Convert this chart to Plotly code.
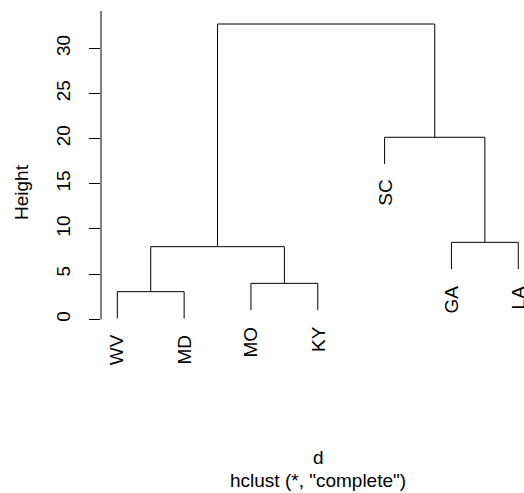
import plotly.graph_objects as go

# ---- data ----
leaf_labels = ["WV", "MD", "MO", "KY", "SC", "GA", "LA"]   # leaf order left->right
# merges in R hclust convention: negative = leaf (1-based index in leaf_labels), positive = earlier merge
merge_left = [-1, -3, 1, -6, -5, 3]
merge_right = [-2, -4, 2, -7, 4, 5]
merge_height = [3.06, 3.98, 8.04, 8.52, 20.15, 32.69]
y_ticks = [0, 5, 10, 15, 20, 25, 30]
hang_frac = 0.1

hang = hang_frac * (max(merge_height) - min(merge_height))

FONT = "Liberation Sans, Arial, Helvetica, sans-serif"
FS = 19

node_x = {}
xs, ys = [], []
leaf_bottoms = {}

def child_info(c, h):
    if c < 0:
        x = float(-c)
        b = h - hang
        leaf_bottoms[-c] = b
        return x, b
    return node_x[c], merge_height[c - 1]

for i, (l, r, h) in enumerate(zip(merge_left, merge_right, merge_height), start=1):
    xl, bl = child_info(l, h)
    xr, br = child_info(r, h)
    xs += [xl, xl, xr, xr, None]
    ys += [bl, h, h, br, None]
    node_x[i] = (xl + xr) / 2.0

fig = go.Figure()
fig.add_trace(go.Scatter(x=xs, y=ys, mode="lines",
                         line=dict(color="black", width=1),
                         hoverinfo="skip", showlegend=False))

for idx, lab in enumerate(leaf_labels, start=1):
    fig.add_annotation(x=idx, y=leaf_bottoms[idx], xref="x", yref="y",
                       text=lab, textangle=-90, showarrow=False,
                       xanchor="center", yanchor="top", yshift=-14,
                       font=dict(family=FONT, size=FS, color="black"))

W, H = 524, 493
ml, mr, mt, mb = 101, 0, 11, 120
px_per_unit_x = 66.83
px_per_unit_y = 9.033
x0 = 1 - (117.3 - ml) / px_per_unit_x
x1 = x0 + (W - ml - mr) / px_per_unit_x
y_bottom = -(373 - 319.3) / px_per_unit_y
y_top = y_bottom + (H - mt - mb) / px_per_unit_y

# axis line from 0 to the top of the plot region (as R clips it)
fig.add_shape(type="line", xref="paper", yref="y", x0=0, x1=0,
              y0=min(y_ticks), y1=y_top, line=dict(color="black", width=1))

fig.update_layout(
    width=W, height=H,
    margin=dict(l=ml, r=mr, t=mt, b=mb, pad=0),
    plot_bgcolor="white", paper_bgcolor="white",
    font=dict(family=FONT, size=FS, color="black"),
    xaxis=dict(range=[x0, x1], visible=False, showgrid=False, zeroline=False),
    yaxis=dict(range=[y_bottom, y_top], showgrid=False, zeroline=False,
               showline=False, tickmode="array", tickvals=y_ticks,
               ticktext=[str(t) for t in y_ticks],
               ticks="outside", ticklen=11, tickwidth=1, tickcolor="black",
               tickangle=-90, ticklabelstandoff=11,
               tickfont=dict(family=FONT, size=FS, color="black")),
    showlegend=False,
)

fig.add_annotation(text="Height", xref="paper", yref="paper",
                   x=(21 - ml) / (W - ml - mr), y=(H - mb - 192) / (H - mt - mb),
                   textangle=-90, showarrow=False, xanchor="center", yanchor="middle",
                   font=dict(family=FONT, size=FS, color="black"))
fig.add_annotation(text="d", xref="paper", yref="paper",
                   x=(318 - ml) / (W - ml - mr), y=(H - mb - 457) / (H - mt - mb),
                   showarrow=False, xanchor="center", yanchor="middle",
                   font=dict(family=FONT, size=FS, color="black"))
fig.add_annotation(text='hclust (*, "complete")', xref="paper", yref="paper",
                   x=(318 - ml) / (W - ml - mr), y=(H - mb - 480) / (H - mt - mb),
                   showarrow=False, xanchor="center", yanchor="middle",
                   font=dict(family=FONT, size=FS, color="black"))

fig.write_html("out.html", config={"displayModeBar": False},
               post_script="document.body.style.margin='0px';document.body.style.overflow='hidden';")
